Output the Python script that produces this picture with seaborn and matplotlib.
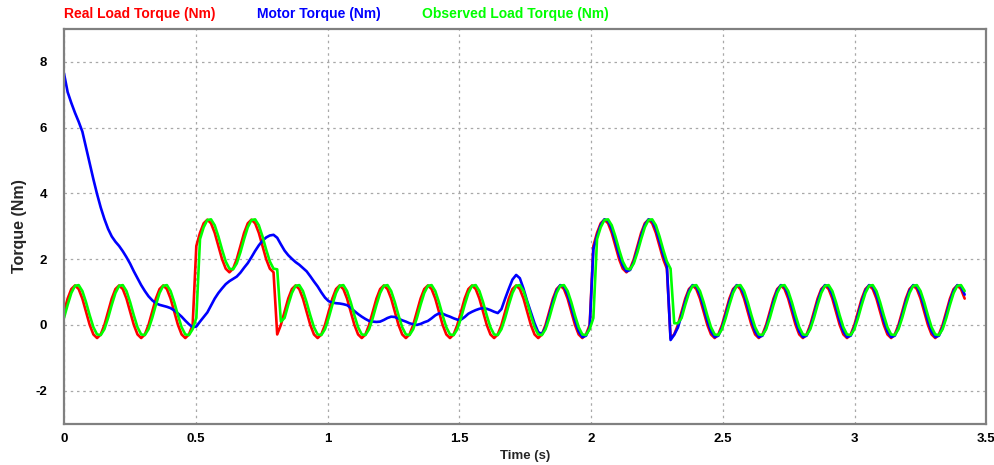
import numpy as np
import pandas as pd
import matplotlib
matplotlib.use("Agg")
import matplotlib.pyplot as plt
import seaborn as sns

# ---------------- data ----------------
sample_step_s = 0.01395  # simulation sample spacing

real_load = [
    0.40, 0.80, 1.09, 1.20, 1.09, 0.80, 0.40, 0.00, -0.29, -0.40, -0.29, 0.00,
    0.40, 0.80, 1.09, 1.20, 1.09, 0.80, 0.40, 0.00, -0.29, -0.40, -0.29, 0.00,
    0.40, 0.80, 1.09, 1.20, 1.09, 0.80, 0.40, 0.00, -0.29, -0.40, -0.29, 0.00,
    2.40, 2.80, 3.09, 3.20, 3.09, 2.80, 2.40, 2.00, 1.71, 1.60, 1.71, 2.00,
    2.40, 2.80, 3.09, 3.20, 3.09, 2.80, 2.40, 2.00, 1.71, 1.60, -0.29, 0.00,
    0.40, 0.80, 1.09, 1.20, 1.09, 0.80, 0.40, 0.00, -0.29, -0.40, -0.29, 0.00,
    0.40, 0.80, 1.09, 1.20, 1.09, 0.80, 0.40, 0.00, -0.29, -0.40, -0.29, 0.00,
    0.40, 0.80, 1.09, 1.20, 1.09, 0.80, 0.40, 0.00, -0.29, -0.40, -0.29, 0.00,
    0.40, 0.80, 1.09, 1.20, 1.09, 0.80, 0.40, 0.00, -0.29, -0.40, -0.29, 0.00,
    0.40, 0.80, 1.09, 1.20, 1.09, 0.80, 0.40, 0.00, -0.29, -0.40, -0.29, 0.00,
    0.40, 0.80, 1.09, 1.20, 1.09, 0.80, 0.40, 0.00, -0.29, -0.40, -0.29, 0.00,
    0.40, 0.80, 1.09, 1.20, 1.09, 0.80, 0.40, 0.00, -0.29, -0.40, -0.29, 0.00,
    2.40, 2.80, 3.09, 3.20, 3.09, 2.80, 2.40, 2.00, 1.71, 1.60, 1.71, 2.00,
    2.40, 2.80, 3.09, 3.20, 3.09, 2.80, 2.40, 2.00, 1.71, -0.40, -0.29, 0.00,
    0.40, 0.80, 1.09, 1.20, 1.09, 0.80, 0.40, 0.00, -0.29, -0.40, -0.29, 0.00,
    0.40, 0.80, 1.09, 1.20, 1.09, 0.80, 0.40, 0.00, -0.29, -0.40, -0.29, 0.00,
    0.40, 0.80, 1.09, 1.20, 1.09, 0.80, 0.40, 0.00, -0.29, -0.40, -0.29, 0.00,
    0.40, 0.80, 1.09, 1.20, 1.09, 0.80, 0.40, 0.00, -0.29, -0.40, -0.29, 0.00,
    0.40, 0.80, 1.09, 1.20, 1.09, 0.80, 0.40, 0.00, -0.29, -0.40, -0.29, 0.00,
    0.40, 0.80, 1.09, 1.20, 1.09, 0.80, 0.40, 0.00, -0.29, -0.40, -0.29, 0.00,
    0.40, 0.80, 1.09, 1.20, 1.09, 0.80,
]

motor_torque = [
    7.65, 7.08, 6.75, 6.45, 6.18, 5.88, 5.40, 4.92, 4.43, 3.98, 3.57, 3.22,
    2.92, 2.69, 2.53, 2.40, 2.24, 2.06, 1.86, 1.63, 1.42, 1.21, 1.03, 0.87,
    0.75, 0.66, 0.61, 0.58, 0.55, 0.51, 0.44, 0.35, 0.25, 0.13, 0.02, -0.07,
    -0.05, 0.10, 0.24, 0.38, 0.59, 0.80, 0.97, 1.11, 1.24, 1.33, 1.40, 1.47,
    1.59, 1.74, 1.88, 2.06, 2.25, 2.42, 2.56, 2.66, 2.72, 2.74, 2.65, 2.45,
    2.26, 2.12, 2.01, 1.91, 1.83, 1.73, 1.63, 1.48, 1.32, 1.17, 0.99, 0.83,
    0.72, 0.68, 0.66, 0.65, 0.63, 0.60, 0.52, 0.42, 0.33, 0.25, 0.18, 0.12,
    0.10, 0.09, 0.10, 0.15, 0.21, 0.25, 0.24, 0.19, 0.14, 0.10, 0.05, 0.02,
    0.00, 0.03, 0.08, 0.12, 0.20, 0.29, 0.35, 0.34, 0.29, 0.25, 0.20, 0.16,
    0.16, 0.24, 0.34, 0.40, 0.45, 0.49, 0.51, 0.49, 0.45, 0.40, 0.36, 0.48,
    0.80, 1.10, 1.38, 1.52, 1.42, 1.10, 0.72, 0.38, 0.05, -0.22, -0.28, -0.08,
    0.30, 0.71, 1.04, 1.21, 1.17, 0.92, 0.54, 0.13, -0.20, -0.37, -0.33, -0.08,
    2.30, 2.71, 3.04, 3.21, 3.17, 2.92, 2.54, 2.13, 1.80, 1.63, 1.67, 1.92,
    2.30, 2.71, 3.04, 3.21, 3.17, 2.92, 2.54, 2.13, 1.80, -0.46, -0.30, -0.08,
    0.30, 0.71, 1.04, 1.21, 1.17, 0.92, 0.54, 0.13, -0.20, -0.37, -0.33, -0.08,
    0.30, 0.71, 1.04, 1.21, 1.17, 0.92, 0.54, 0.13, -0.20, -0.37, -0.33, -0.08,
    0.30, 0.71, 1.04, 1.21, 1.17, 0.92, 0.54, 0.13, -0.20, -0.37, -0.33, -0.08,
    0.30, 0.71, 1.04, 1.21, 1.17, 0.92, 0.54, 0.13, -0.20, -0.37, -0.33, -0.08,
    0.30, 0.71, 1.04, 1.21, 1.17, 0.92, 0.54, 0.13, -0.20, -0.37, -0.33, -0.08,
    0.30, 0.71, 1.04, 1.21, 1.17, 0.92, 0.54, 0.13, -0.20, -0.37, -0.33, -0.08,
    0.30, 0.71, 1.04, 1.21, 1.17, 0.92,
]

observed_load = [
    0.21, 0.61, 0.97, 1.19, 1.21, 1.03, 0.69, 0.29, -0.07, -0.29, -0.31, -0.13,
    0.21, 0.61, 0.97, 1.19, 1.21, 1.03, 0.69, 0.29, -0.07, -0.29, -0.31, -0.13,
    0.21, 0.61, 0.97, 1.19, 1.21, 1.03, 0.69, 0.29, -0.07, -0.29, -0.31, -0.13,
    0.21, 2.61, 2.97, 3.19, 3.21, 3.03, 2.69, 2.29, 1.93, 1.71, 1.69, 1.87,
    2.21, 2.61, 2.97, 3.19, 3.21, 3.03, 2.69, 2.29, 1.93, 1.71, 1.69, 0.10,
    0.21, 0.61, 0.97, 1.19, 1.21, 1.03, 0.69, 0.29, -0.07, -0.29, -0.31, -0.13,
    0.21, 0.61, 0.97, 1.19, 1.21, 1.03, 0.69, 0.29, -0.07, -0.29, -0.31, -0.13,
    0.21, 0.61, 0.97, 1.19, 1.21, 1.03, 0.69, 0.29, -0.07, -0.29, -0.31, -0.13,
    0.21, 0.61, 0.97, 1.19, 1.21, 1.03, 0.69, 0.29, -0.07, -0.29, -0.31, -0.13,
    0.21, 0.61, 0.97, 1.19, 1.21, 1.03, 0.69, 0.29, -0.07, -0.29, -0.31, -0.13,
    0.21, 0.61, 0.97, 1.19, 1.21, 1.03, 0.69, 0.29, -0.07, -0.29, -0.31, -0.13,
    0.21, 0.61, 0.97, 1.19, 1.21, 1.03, 0.69, 0.29, -0.07, -0.29, -0.31, -0.13,
    0.21, 2.61, 2.97, 3.19, 3.21, 3.03, 2.69, 2.29, 1.93, 1.71, 1.69, 1.87,
    2.21, 2.61, 2.97, 3.19, 3.21, 3.03, 2.69, 2.29, 1.93, 1.71, 0.05, 0.05,
    0.21, 0.61, 0.97, 1.19, 1.21, 1.03, 0.69, 0.29, -0.07, -0.29, -0.31, -0.13,
    0.21, 0.61, 0.97, 1.19, 1.21, 1.03, 0.69, 0.29, -0.07, -0.29, -0.31, -0.13,
    0.21, 0.61, 0.97, 1.19, 1.21, 1.03, 0.69, 0.29, -0.07, -0.29, -0.31, -0.13,
    0.21, 0.61, 0.97, 1.19, 1.21, 1.03, 0.69, 0.29, -0.07, -0.29, -0.31, -0.13,
    0.21, 0.61, 0.97, 1.19, 1.21, 1.03, 0.69, 0.29, -0.07, -0.29, -0.31, -0.13,
    0.21, 0.61, 0.97, 1.19, 1.21, 1.03, 0.69, 0.29, -0.07, -0.29, -0.31, -0.13,
    0.21, 0.61, 0.97, 1.19, 1.21, 1.03,
]

series_names = ["Real Load Torque (Nm)", "Motor Torque (Nm)", "Observed Load Torque (Nm)"]
series_colors = ["#ff0000", "#0000ff", "#00ff00"]
x_ticks = [0, 0.5, 1, 1.5, 2, 2.5, 3, 3.5]
x_tick_labels = ["0", "0.5", "1", "1.5", "2", "2.5", "3", "3.5"]
y_ticks = [-2, 0, 2, 4, 6, 8]
y_tick_labels = ["-2", "0", "2", "4", "6", "8"]

time_s = np.arange(len(real_load)) * sample_step_s

frames = []
for name, vals in zip(series_names, [real_load, motor_torque, observed_load]):
    frames.append(pd.DataFrame({"Time": time_s, "Torque": vals, "Series": name}))
df = pd.concat(frames, ignore_index=True)

# ---------------- drawing ----------------
sns.set_style("white")
plt.rcParams["font.family"] = ["Liberation Sans", "DejaVu Sans"]

fig = plt.figure(figsize=(9.95, 4.65), dpi=100)
ax = fig.add_axes([0.0643, 0.0892, 0.927, 0.8484])

sns.lineplot(data=df, x="Time", y="Torque", hue="Series", hue_order=series_names,
             palette=series_colors, sort=False, estimator=None, legend=False,
             linewidth=1.9, ax=ax)

ax.set_xlim(0, 3.5)
ax.set_ylim(-3, 9)
ax.set_xticks(x_ticks)
ax.set_xticklabels(x_tick_labels, fontsize=9.5, fontweight="bold")
ax.set_yticks(y_ticks)
ax.set_yticklabels(y_tick_labels, fontsize=9.5, fontweight="bold")
ax.tick_params(axis="both", length=0, colors="black")
ax.tick_params(axis="x", pad=7)
ax.tick_params(axis="y", pad=12)

ax.grid(True, color="#a8a8a8", linestyle=(0, (2, 3)), linewidth=0.9)
for s in ax.spines.values():
    s.set_color("#808080")
    s.set_linewidth(1.6)

ax.set_xlabel("Time (s)", fontsize=9.5, fontweight="bold")
ax.xaxis.set_label_coords(0.5, -0.066)
ax.xaxis.label.set_va("top")
ax.set_ylabel("Torque (Nm)", fontsize=11.5, fontweight="bold")
ax.yaxis.set_label_coords(-0.040, 0.5)

legend_x_px = [64, 257, 422]
for name, col, xp in zip(series_names, series_colors, legend_x_px):
    fig.text(xp / 995, 1 - 14 / 465, name, color=col, fontsize=10,
             fontweight="bold", ha="left", va="center")

fig.savefig("out.png", dpi=100)
